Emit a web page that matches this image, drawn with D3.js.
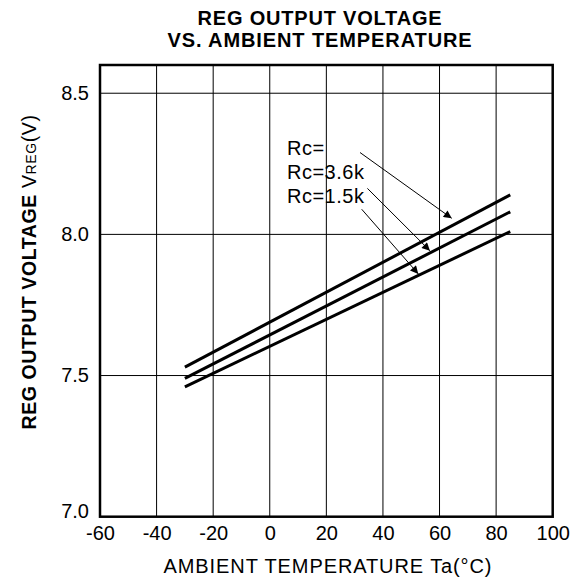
<!DOCTYPE html>
<html><head><meta charset="utf-8">
<script src="https://cdn.jsdelivr.net/npm/d3@7"></script>
<style>body{margin:0;background:#fff}svg{display:block}text{font-family:Arial,"Liberation Sans",sans-serif}</style>
</head><body><svg id="c" width="576" height="581"></svg>
<script>
const xTicks=[-60,-40,-20,0,20,40,60,80,100];
const yTicks=[7.0,7.5,8.0,8.5];
const temps=[-30,85];
const rcInf=[7.53,8.14];
const rc36=[7.49,8.08];
const rc15=[7.46,8.01];
const labels=["Rc=","Rc=3.6k","Rc=1.5k"];
// arrows: [x0,y0,x1,y1] in data units
const arrowFrom=[[31.9,8.29],[34.5,8.163],[32.5,8.089]];
const arrowTo=[[64.3,8.057],[56.6,7.942],[52.5,7.860]];

const svg=d3.select("#c");
const L=100,R=552.7,T=65,B=516.7;
const x=d3.scaleLinear().domain([-60,100]).range([L,R]);
const y=d3.scaleLinear().domain([7.0,8.6]).range([B,T]);

svg.append("defs").append("marker").attr("id","ah").attr("viewBox","0 0 10 10")
 .attr("refX",10).attr("refY",5).attr("markerWidth",15).attr("markerHeight",8)
 .attr("markerUnits","userSpaceOnUse").attr("orient","auto")
 .append("path").attr("d","M0,0L10,5L0,10Z").attr("fill","#000");

// grid
svg.append("g").selectAll("line").data(xTicks.slice(1,-1)).join("line")
 .attr("x1",d=>x(d)).attr("x2",d=>x(d)).attr("y1",T).attr("y2",B).attr("stroke","#000").attr("stroke-width",1);
svg.append("g").selectAll("line").data(yTicks.slice(1)).join("line")
 .attr("y1",d=>y(d)).attr("y2",d=>y(d)).attr("x1",L).attr("x2",R).attr("stroke","#000").attr("stroke-width",1);

// axes labels
const xa=svg.append("g").attr("transform",`translate(0,${B})`).call(d3.axisBottom(x).tickValues(xTicks).tickSize(0).tickPadding(0).tickFormat(d=>String(d)));
xa.select(".domain").remove();
xa.selectAll("text").attr("font-size",20).attr("dy",null).attr("y",23).attr("fill","#000").attr("font-family","Arial, Liberation Sans, sans-serif");
const ya=svg.append("g").attr("transform",`translate(${L},0)`).call(d3.axisLeft(y).tickValues(yTicks).tickSize(0).tickPadding(11).tickFormat(d3.format(".1f")));
ya.select(".domain").remove();
ya.selectAll("text").attr("font-size",20).attr("fill","#000").attr("font-family","Arial, Liberation Sans, sans-serif")
 .attr("dy",d=>d===7.0?"0.05em":"0.32em");

// frame
svg.append("rect").attr("x",L).attr("y",T).attr("width",R-L).attr("height",B-T).attr("fill","none").attr("stroke","#000").attr("stroke-width",2.5);

// lines
const line=d3.line().x((d,i)=>x(temps[i])).y(d=>y(d));
[rcInf,rc36,rc15].forEach(s=>{
 svg.append("path").attr("d",line(s)).attr("fill","none").attr("stroke","#000").attr("stroke-width",3);
});

// labels and arrows
svg.append("g").selectAll("text").data(labels).join("text")
 .attr("x",287).attr("y",(d,i)=>155+i*24).attr("font-size",20).attr("letter-spacing",0.5).text(d=>d);
svg.append("g").selectAll("line").data(arrowFrom).join("line")
 .attr("x1",d=>x(d[0])).attr("y1",d=>y(d[1]))
 .attr("x2",(d,i)=>x(arrowTo[i][0])).attr("y2",(d,i)=>y(arrowTo[i][1]))
 .attr("stroke","#000").attr("stroke-width",1).attr("marker-end","url(#ah)");

// titles
svg.append("text").attr("x",320).attr("y",25).attr("text-anchor","middle").attr("font-size",20).attr("letter-spacing",0.8).attr("font-weight","bold").text("REG OUTPUT VOLTAGE");
svg.append("text").attr("x",320).attr("y",47).attr("text-anchor","middle").attr("font-size",20).attr("letter-spacing",0.9).attr("font-weight","bold").text("VS. AMBIENT TEMPERATURE");
svg.append("text").attr("x",328).attr("y",573).attr("text-anchor","middle").attr("font-size",20).attr("letter-spacing",0.9).text("AMBIENT TEMPERATURE Ta(°C)");
const yl=svg.append("text").attr("transform",`translate(36,272) rotate(-90)`).attr("text-anchor","middle").attr("font-size",19.5).attr("letter-spacing",0.6);
yl.append("tspan").attr("font-weight","bold").text("REG OUTPUT VOLTAGE ");
yl.append("tspan").text("V");
yl.append("tspan").attr("font-size",14).text("REG");
yl.append("tspan").text("(V)");
</script></body></html>
